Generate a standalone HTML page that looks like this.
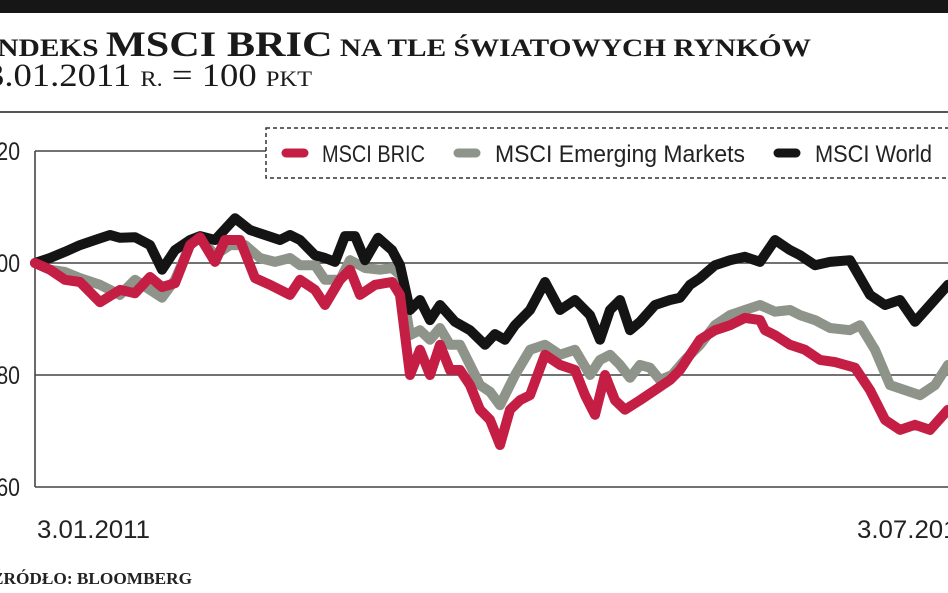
<!DOCTYPE html>
<html><head><meta charset="utf-8"><style>
html,body{margin:0;padding:0;background:#fff;}
body{width:948px;height:593px;overflow:hidden;position:relative;}
svg{display:block;}
</style></head><body>
<svg id="chart" width="948" height="593">
<rect x="0" y="0" width="948" height="13" fill="#161616"/>
<text x="-14" y="56" textLength="825" lengthAdjust="spacingAndGlyphs" font-family="Liberation Serif, serif" font-weight="bold" fill="#1a1a1a"><tspan font-size="25">INDEKS </tspan><tspan font-size="36">MSCI BRIC</tspan><tspan font-size="25"> NA TLE ŚWIATOWYCH RYNKÓW</tspan></text>
<text x="-14" y="86" textLength="326" lengthAdjust="spacingAndGlyphs" font-family="Liberation Serif, serif" fill="#1a1a1a"><tspan font-size="33">3.01.2011 </tspan><tspan font-size="22">R.</tspan><tspan font-size="33"> = 100 </tspan><tspan font-size="22">PKT</tspan></text>
<line x1="0" y1="112" x2="948" y2="112" stroke="#555" stroke-width="2"/>
<g id="grid"></g>
<g id="series"></g>
<g>
<rect x="266" y="128" width="700" height="50" fill="#fff" stroke="#333" stroke-width="1.5" stroke-dasharray="4,3"/>
<line x1="286" y1="153" x2="304" y2="153" stroke="#c41e45" stroke-width="9" stroke-linecap="round"/>
<text x="322" y="162" textLength="103" lengthAdjust="spacingAndGlyphs" font-family="Liberation Sans, sans-serif" font-size="24" fill="#222">MSCI BRIC</text>
<line x1="458" y1="153" x2="476" y2="153" stroke="#8e948a" stroke-width="9" stroke-linecap="round"/>
<text x="495" y="162" textLength="250" lengthAdjust="spacingAndGlyphs" font-family="Liberation Sans, sans-serif" font-size="24" fill="#222">MSCI Emerging Markets</text>
<line x1="778" y1="153" x2="796" y2="153" stroke="#141414" stroke-width="9" stroke-linecap="round"/>
<text x="815" y="162" textLength="117" lengthAdjust="spacingAndGlyphs" font-family="Liberation Sans, sans-serif" font-size="24" fill="#222">MSCI World</text>
</g>
<text x="37" y="538" textLength="113" lengthAdjust="spacingAndGlyphs" font-family="Liberation Sans, sans-serif" font-size="25" fill="#222">3.01.2011</text>
<text x="857" y="538" textLength="113" lengthAdjust="spacingAndGlyphs" font-family="Liberation Sans, sans-serif" font-size="25" fill="#222">3.07.2011</text>
<text x="-8" y="584" textLength="200" lengthAdjust="spacingAndGlyphs" font-family="Liberation Serif, serif" font-size="17" font-weight="bold" fill="#222">ŹRÓDŁO: BLOOMBERG</text>
</svg>
<script>
const yTicks=[120,100,80,60];
const worldDays=[0,3,6,9,12,15,17,20,23,25.4,28,31,33,36,40,43,46,49,51,53,56,58,60,62,64,66,68.6,71.4,73,75,77,79,81,84,87,90,92,94,96,99,102,105,108,111,113,115,117,119,121,124,127,129,131,133,136,139,142,145,148,151,153,156,159,163,167,170,173,176,179,182.6];
const worldValues=[100,100.9,102,103.2,104.1,105,104.5,104.6,103.2,98.8,102.3,104.1,104.8,104.1,108,105.9,105,104.1,105,104.1,101.4,100.9,100.2,104.8,104.8,100.5,104.5,102.3,99.6,91.6,93.4,89.8,92.5,89.5,88,85.4,87.3,86.3,88.9,91.6,96.6,91.6,93.4,90.7,86.3,91.6,93.4,88,89.5,92.5,93.4,93.8,96.1,97.3,99.6,100.5,101.1,100.2,104.1,102.3,101.4,99.6,100.2,100.5,94.3,92.5,93.4,89.5,92.5,96.1];
const emDays=[0,3,6,9,13,17,20,23,25.4,28,31,33,36,39,42,45,48,51,53,56,58,61,63,66,69,71.4,73,75,77,79,81,83,85,87,89,91,93,96,99,102,105,108,111,113,115,117,119,121,123,125,127.4,130,133,136,139,142,145,148,151,153,156,159,163,165,168,171,174,177,180,182.6];
const emValues=[100,98.8,98.4,97.3,96.1,94.3,97,95.2,93.8,97,103.2,104.6,101.4,103.2,103.2,100.9,100.2,100.9,99.6,99.6,97,97,100.5,99.1,98.8,99.1,97.9,87.1,88,86.3,88.4,85.4,85.4,81.8,78.2,77,74.6,80,84.5,85.4,83.6,84.5,80,82.7,83.6,81.8,79.5,81.8,81.3,79.1,80,82.7,85.4,88.9,90.7,91.6,92.5,91.3,91.6,90.7,89.8,88.4,88,88.9,84.5,78.2,77.3,76.4,78.2,81.8];
const bricDays=[0,3,6,9,13,17,20,23,25.4,28,31,33,36,38,41,44,47,51,53,56,58,61,63,65,68,71.4,73,75,77,79,81,83,85,87,89,91,93,95,97,99,102,105,108,110,112,114,116,118,121,124,127,129,131,133,136,139,142,145,146,148,151,154,157,160,164,167,170,173,176,179,182.6];
const bricValues=[100,98.8,97,96.6,93,95.2,94.6,97.5,95.7,96.4,103.2,104.6,100.2,104.1,104.1,97.3,96.1,94.3,97,95.2,92.5,97,98.8,94.3,96.1,96.6,94.3,80,84.5,80,85.4,80.9,80.9,78.2,73.8,72,67.5,73.8,75.5,76.4,83.6,81.8,80.9,76.4,72.9,80,75.5,73.8,75.5,77.3,79.1,80.9,83.6,86.3,88,88.9,90.2,89.8,88,87.1,85.4,84.5,82.7,82.3,81.3,77.3,72,70.2,71.1,70.2,73.8];

const NS='http://www.w3.org/2000/svg';
const x0=35, pxPerDay=5;
function xScale(d){return x0+d*pxPerDay;}
function yScale(v){return 263-(v-100)*5.6;}
const grid=document.getElementById('grid');
yTicks.forEach(t=>{
  const l=document.createElementNS(NS,'line');
  l.setAttribute('x1',x0);l.setAttribute('x2',t===120?266:948);
  l.setAttribute('y1',yScale(t));l.setAttribute('y2',yScale(t));
  l.setAttribute('stroke','#444');l.setAttribute('stroke-width','1.6');
  
  
  grid.appendChild(l);
  const tx=document.createElementNS(NS,'text');
  tx.setAttribute('x',20);tx.setAttribute('y',yScale(t)+9);
  tx.setAttribute('text-anchor','end');
  tx.setAttribute('font-family','Liberation Sans, sans-serif');
  tx.setAttribute('font-size','25');tx.setAttribute('fill','#222');
  tx.setAttribute('transform','translate(20,0) scale(0.85,1) translate(-20,0)');
  tx.textContent=t;
  
  
  grid.appendChild(tx);
});
const ax=document.createElementNS(NS,'line');
ax.setAttribute('x1',x0);ax.setAttribute('x2',x0);ax.setAttribute('y1',yScale(120));ax.setAttribute('y2',yScale(60));
ax.setAttribute('stroke','#444');ax.setAttribute('stroke-width','1.6');


grid.appendChild(ax);

const sg=document.getElementById('series');
function draw(days,vals,color,name){
  const p=document.createElementNS(NS,'path');
  let d='';
  days.forEach((dd,i)=>{d+=(i?'L':'M')+xScale(dd).toFixed(1)+','+yScale(vals[i]).toFixed(1);});
  p.setAttribute('d',d);p.setAttribute('fill','none');p.setAttribute('stroke',color);
  p.setAttribute('stroke-width','10');p.setAttribute('stroke-linejoin','round');p.setAttribute('stroke-linecap','round');
  
  
  sg.appendChild(p);
}
draw(emDays,emValues,'#8e948a','line-msci-emerging-markets');
draw(worldDays,worldValues,'#141414','line-msci-world');
draw(bricDays,bricValues,'#c41e45','line-msci-bric');
</script>
</body></html>
